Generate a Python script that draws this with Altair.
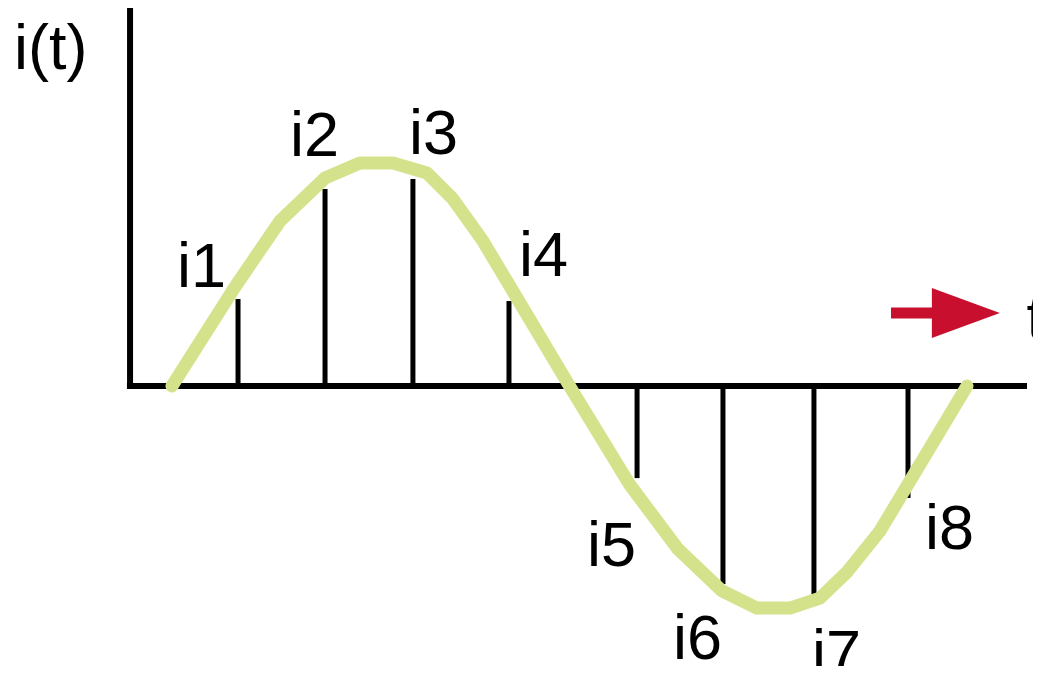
import altair as alt
import pandas as pd

# Curve vertices (phase in degrees, current in units of amplitude)
curve_t = [0, 28.5, 48.9, 69.3, 85.1, 100.1, 115.5, 127.2, 140.8, 180,
           207.4, 229.1, 249.1, 264.9, 279.8, 293.4, 305.7, 320.6, 360]
curve_i = [0, 0.444, 0.740, 0.933, 1.0, 1.0, 0.955, 0.839, 0.650, 0,
           -0.444, -0.731, -0.919, -0.996, -0.996, -0.951, -0.834, -0.650, 0]

# Sample instants and sampled values
sample_t = [29.9, 69.3, 109.1, 152.6, 210.6, 249.5, 290.7, 333.3]
sample_i = [0.390, 0.883, 0.928, 0.381, -0.413, -0.888, -0.933, -0.502]

# Sample labels
label_text = ["i1", "i2", "i3", "i4", "i5", "i6", "i7", "i8"]
label_t = [13.4, 64.5, 118.4, 168.2, 199.0, 238.0, 300.9, 352.1]
label_i = [0.444, 1.031, 1.040, 0.493, -0.807, -1.224, -1.291, -0.731]

# Axes lines (vertical i-axis, horizontal t-axis)
axis_t = [-19.0, -20.4]
axis_i = [1.704, 0.0]
axis_t2 = [-19.0, 387.2]
axis_i2 = [-0.0135, 0.0]

# Arrow (time direction)
arrow_t = [325.6]
arrow_t2 = [345.5]
arrow_head_t = [359.5]
arrow_i = [0.327]

# Axis titles
title_text = ["i(t)", "t"]
title_t = [-71.5, 387.0]
title_i = [1.4215, 0.211]

X_DOM = [-74.27, 389.9]
Y_DOM = [-1.2556, 1.6951]

def xs(field):
    return alt.X(field, type="quantitative",
                 scale=alt.Scale(domain=X_DOM, nice=False, zero=False), axis=None)

def ys(field):
    return alt.Y(field, type="quantitative",
                 scale=alt.Scale(domain=Y_DOM, nice=False, zero=False), axis=None)

curve_df = pd.DataFrame({"t": curve_t, "i": curve_i, "k": list(range(len(curve_t)))})
sample_df = pd.DataFrame({"t": sample_t, "i": sample_i, "z": [0.0] * len(sample_t)})
label_df = pd.DataFrame({"t": label_t, "i": label_i, "txt": label_text})
axis_df = pd.DataFrame({"t": axis_t, "i": axis_i, "t2": axis_t2, "i2": axis_i2})
arrow_df = pd.DataFrame({"t": arrow_t, "t2": arrow_t2, "th": arrow_head_t, "i": arrow_i})
title_df = pd.DataFrame({"t": title_t, "i": title_i, "txt": title_text})

axes = alt.Chart(axis_df).mark_rule(color="black", strokeWidth=6, strokeCap="butt").encode(
    x=xs("t"), y=ys("i"), x2="t2", y2="i2")

samples = alt.Chart(sample_df).mark_rule(color="black", strokeWidth=5, strokeCap="butt").encode(
    x=xs("t"), y=ys("z"), y2="i")

curve = alt.Chart(curve_df).mark_line(
    color="#D4E38B", strokeWidth=13, strokeCap="round", strokeJoin="round"
).encode(x=xs("t"), y=ys("i"), order="k:Q")

shaft = alt.Chart(arrow_df).mark_rule(color="#C8102E", strokeWidth=11, strokeCap="butt").encode(
    x=xs("t"), x2="t2", y=ys("i"))

head = alt.Chart(arrow_df).mark_point(
    shape="M-1,-0.735L1,0L-1,0.735Z", size=4624, filled=True,
    color="#C8102E", opacity=1, strokeWidth=0
).encode(x=xs("th"), y=ys("i"))

labels = alt.Chart(label_df).mark_text(
    font="Liberation Sans", fontSize=63, color="black", align="center", baseline="alphabetic"
).encode(x=xs("t"), y=ys("i"), text="txt")

titles = alt.Chart(title_df).mark_text(
    font="Liberation Sans", fontSize=63, color="black", align="left", baseline="alphabetic"
).encode(x=xs("t"), y=ys("i"), text="txt")

chart = alt.layer(axes, samples, curve, shaft, head, labels, titles).properties(
    width=1025, height=658,
    autosize=alt.AutoSizeParams(type="none"),
    padding=0,
    background="white",
).configure_view(stroke=None)

chart.save("out.html", embed_options={"renderer": "svg", "actions": False})
